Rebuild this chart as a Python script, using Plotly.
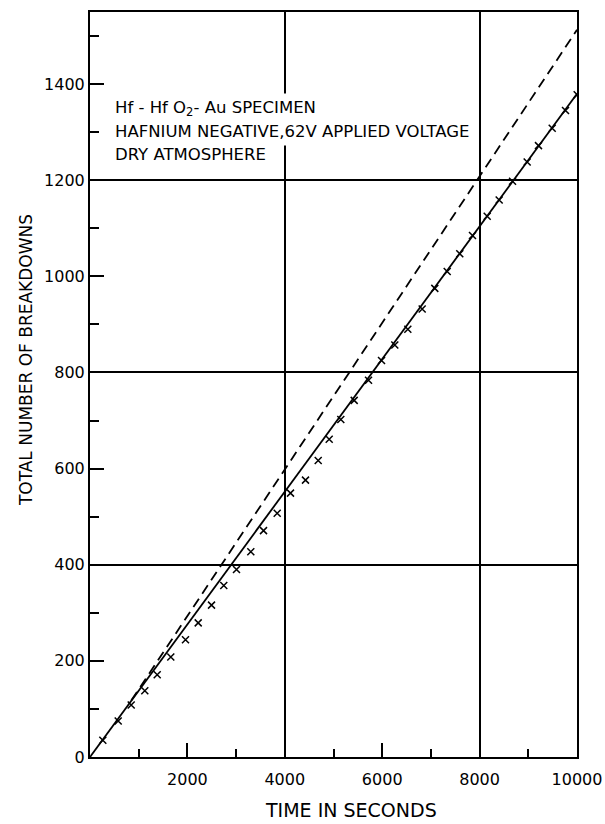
import plotly.graph_objects as go

# Measured breakdown counts (x markers)
time_s = [263, 579, 846, 1125, 1380, 1659, 1961, 2222, 2495, 2747, 3008, 3302, 3563, 3844,
          4117, 4425, 4686, 4912, 5150, 5425, 5719, 5986, 6259, 6526, 6821, 7080, 7335,
          7593, 7854, 8156, 8402, 8676, 8977, 9209, 9491, 9764, 10004]
breakdowns = [35, 75, 108, 138, 171, 208, 244, 279, 316, 357, 390, 427, 471, 507,
              549, 576, 617, 661, 702, 742, 784, 825, 857, 890, 932, 975, 1010,
              1047, 1085, 1125, 1159, 1198, 1238, 1272, 1308, 1345, 1378]

# Solid fitted line
solid_x = [0, 10000]
solid_y = [0, 1380]

# Dashed line
dash_x = [850, 10000]
dash_y = [118, 1513]

y_ticks = [0, 200, 400, 600, 800, 1000, 1200, 1400]
x_ticks = [2000, 4000, 6000, 8000, 10000]

note_lines = ["Hf - Hf O<sub>2</sub>- Au SPECIMEN",
              "HAFNIUM NEGATIVE,62V APPLIED VOLTAGE",
              "DRY ATMOSPHERE"]
note_y = [1350, 1302, 1254]

FONT = "DejaVu Sans"

fig = go.Figure()

fig.add_trace(go.Scatter(x=solid_x, y=solid_y, mode="lines",
                         line=dict(color="black", width=1.8), showlegend=False))
fig.add_trace(go.Scatter(x=dash_x, y=dash_y, mode="lines",
                         line=dict(color="black", width=1.8, dash="10px,6px"), showlegend=False))
fig.add_trace(go.Scatter(x=time_s, y=breakdowns, mode="markers",
                         marker=dict(symbol="x-thin", size=7, line=dict(color="black", width=1.5)),
                         showlegend=False))

# grid-only overlay axes
fig.add_trace(go.Scatter(x=[0], y=[0], xaxis="x2", yaxis="y2", mode="markers",
                         marker=dict(opacity=0), showlegend=False, hoverinfo="skip"))

fig.update_layout(
    width=605, height=824,
    margin=dict(l=90, r=28, t=12, b=67),
    paper_bgcolor="white", plot_bgcolor="white",
    font=dict(family=FONT, color="black", size=16),
    xaxis=dict(range=[0, 10000], tickvals=x_ticks, ticktext=[str(v) for v in x_ticks],
               ticks="inside", ticklen=14, tickwidth=1.5, tickcolor="black",
               minor=dict(dtick=1000, tick0=0, ticks="inside", ticklen=8, tickwidth=1.5, tickcolor="black"),
               showgrid=False, zeroline=False, showline=True, linecolor="black", linewidth=2,
               mirror=True, tickfont=dict(size=16), automargin=False, ticklabelstandoff=7),
    yaxis=dict(range=[0, 1550], tickvals=y_ticks, ticktext=[str(v) for v in y_ticks],
               ticks="inside", ticklen=14, tickwidth=1.5, tickcolor="black",
               minor=dict(dtick=100, tick0=0, ticks="inside", ticklen=9, tickwidth=1.5, tickcolor="black"),
               showgrid=False, zeroline=False, showline=True, linecolor="black", linewidth=2,
               mirror=True, tickfont=dict(size=16), automargin=False),
    xaxis2=dict(range=[0, 10000], overlaying="x", dtick=4000, tick0=0, showgrid=True,
                gridcolor="black", gridwidth=1.5, showticklabels=False, zeroline=False,
                showline=False, ticks=""),
    yaxis2=dict(range=[0, 1550], overlaying="y", dtick=400, tick0=0, showgrid=True,
                gridcolor="black", gridwidth=1.5, showticklabels=False, zeroline=False,
                showline=False, ticks=""),
)

# axis titles
fig.add_annotation(xref="paper", yref="paper", x=0.536, y=-0.071, xanchor="center", yanchor="middle",
                   text="TIME IN SECONDS", showarrow=False, font=dict(family=FONT, size=19, color="black"))
fig.add_annotation(xref="paper", yref="paper", x=-0.131, y=0.533, xanchor="center", yanchor="middle",
                   text="TOTAL NUMBER OF BREAKDOWNS", textangle=-90, showarrow=False,
                   font=dict(family=FONT, size=17, color="black"))

# specimen note (white background)
for txt, yy in zip(note_lines, note_y):
    fig.add_annotation(
        xref="x", yref="y", x=420, y=yy, xanchor="left", yanchor="middle",
        text=txt, showarrow=False, align="left", bgcolor="white", borderpad=4,
        font=dict(family=FONT, size=16.5, color="black"),
    )

fig.write_html("out.html")
